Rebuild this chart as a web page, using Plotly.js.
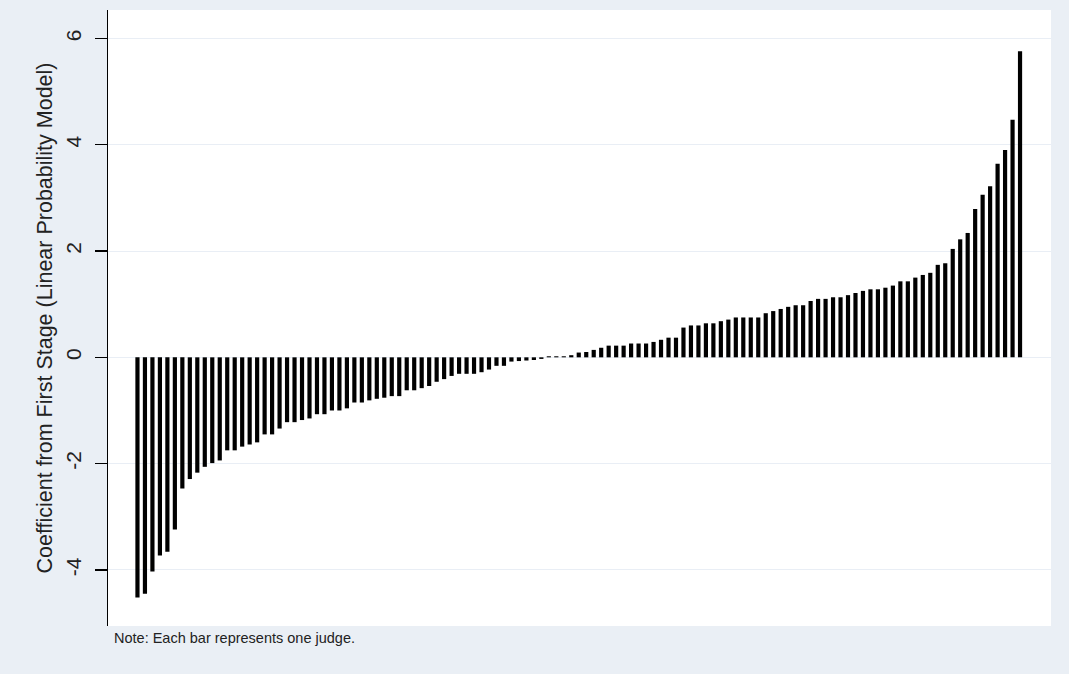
<!DOCTYPE html>
<html>
<head>
<meta charset="utf-8">
<script src="https://cdn.plot.ly/plotly-3.0.1.min.js"></script>
<style>
  html, body { margin: 0; padding: 0; background: #eaeff5; }
  #chart { width: 1069px; height: 674px; }
</style>
</head>
<body>
<div id="chart"></div>
<script>
// First-stage coefficient per judge, sorted ascending (one bar per judge)
const coefNegative = [
  -4.52, -4.45, -4.03, -3.73, -3.66, -3.24, -2.47, -2.29, -2.17, -2.06,
  -1.99, -1.94, -1.75, -1.75, -1.68, -1.64, -1.60, -1.45, -1.45, -1.34,
  -1.22, -1.22, -1.18, -1.15, -1.07, -1.07, -1.00, -1.00, -0.96, -0.85,
  -0.85, -0.81, -0.78, -0.76, -0.73, -0.73, -0.62, -0.62, -0.58, -0.54,
  -0.46, -0.41, -0.35, -0.31, -0.31, -0.31, -0.28, -0.23, -0.16, -0.16,
  -0.08, -0.07, -0.06, -0.05, -0.03
];
const coefPositive = [
  0.02, 0.02, 0.02, 0.04, 0.09, 0.10, 0.14, 0.18, 0.22, 0.22,
  0.22, 0.26, 0.26, 0.26, 0.29, 0.33, 0.37, 0.37, 0.56, 0.60,
  0.60, 0.64, 0.64, 0.68, 0.71, 0.75, 0.75, 0.75, 0.75, 0.83,
  0.87, 0.91, 0.95, 0.98, 0.98, 1.06, 1.10, 1.10, 1.13, 1.13,
  1.17, 1.21, 1.25, 1.28, 1.28, 1.31, 1.35, 1.43, 1.43, 1.50,
  1.55, 1.59, 1.74, 1.77, 2.04, 2.22, 2.34, 2.79, 3.06, 3.22,
  3.64, 3.90, 4.47, 5.76
];
const coefficients = coefNegative.concat(coefPositive);
const judgeRank = coefficients.map((_, i) => i + 1);

const yTickValues = [-4, -2, 0, 2, 4, 6];
const yTickLabels = ["-4", "-2", "0", "2", "4", "6"];
const yTitle = "Coefficient from First Stage (Linear Probability Model)";
const noteText = "Note: Each bar represents one judge.";

const FONT = "Liberation Sans, Arial, sans-serif";

const trace = {
  type: "bar",
  x: judgeRank,
  y: coefficients,
  marker: { color: "#000000", line: { width: 0 } },
  hoverinfo: "x+y"
};

const layout = {
  width: 1069,
  height: 674,
  margin: { l: 108, r: 18, t: 10, b: 48, pad: 0 },
  paper_bgcolor: "#eaeff5",
  plot_bgcolor: "#ffffff",
  bargap: 0.44,
  showlegend: false,
  font: { family: FONT, color: "#222222" },
  xaxis: {
    range: [-2.94, 123.14],
    visible: true,
    showgrid: false,
    zeroline: false,
    showline: false,
    showticklabels: false,
    ticks: ""
  },
  yaxis: {
    range: [-5.055, 6.535],
    tickvals: yTickValues,
    ticktext: yTickLabels,
    tickangle: -90,
    ticks: "outside",
    ticklen: 12,
    tickwidth: 1.3,
    tickcolor: "#000000",
    ticklabelstandoff: 5,
    tickfont: { family: FONT, size: 21, color: "#222222" },
    showline: true,
    linecolor: "#000000",
    linewidth: 1.3,
    showgrid: true,
    gridcolor: "#e9eef5",
    gridwidth: 1,
    zeroline: false,
    automargin: false,
    title: {
      text: yTitle,
      font: { family: FONT, size: 21.5, color: "#222222" },
      standoff: 3
    }
  },
  annotations: [
    {
      text: noteText,
      xref: "paper", yref: "paper",
      x: 0.0042, y: -0.004,
      xanchor: "left", yanchor: "top",
      showarrow: false,
      font: { family: FONT, size: 14.5, color: "#222222" }
    }
  ]
};

Plotly.newPlot("chart", [trace], layout, { displayModeBar: false, staticPlot: true });
</script>
</body>
</html>
